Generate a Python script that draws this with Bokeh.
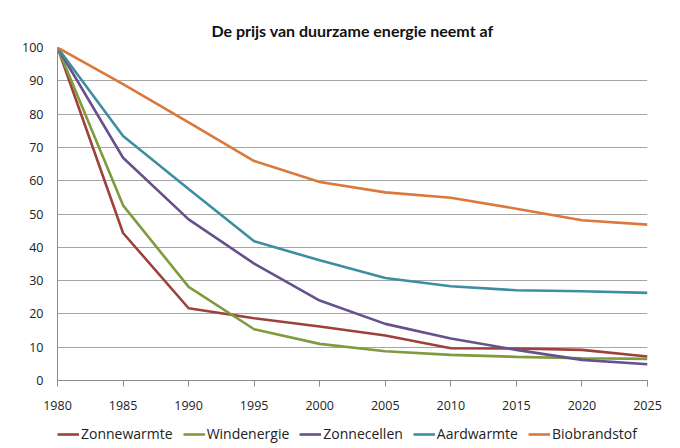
from bokeh.plotting import figure
from bokeh.layouts import column
from bokeh.models import Legend, LegendItem, Range1d, FixedTicker
from bokeh.embed import file_html
from bokeh.resources import INLINE

years = [1980, 1985, 1990, 1995, 2000, 2005, 2010, 2015, 2020, 2025]
zonnewarmte = [100, 44.3, 21.7, 18.7, 16.2, 13.5, 9.7, 9.6, 9.2, 7.2]
windenergie = [100, 52.6, 28.1, 15.4, 11.0, 8.8, 7.7, 7.1, 6.7, 6.5]
zonnecellen = [100, 66.9, 48.4, 35.1, 24.0, 17.0, 12.6, 9.2, 6.2, 4.9]
aardwarmte = [100, 73.4, 57.5, 41.8, 36.1, 30.8, 28.3, 27.1, 26.8, 26.3]
biobrandstof = [100, 89.0, 77.5, 65.9, 59.6, 56.5, 54.9, 51.6, 48.1, 46.8]

series_names = ["Zonnewarmte", "Windenergie", "Zonnecellen", "Aardwarmte", "Biobrandstof"]
series_values = [zonnewarmte, windenergie, zonnecellen, aardwarmte, biobrandstof]
colors = ["#9E403C", "#7F9B3D", "#66518D", "#3E8EA1", "#DA793B"]

y_ticks = [0, 10, 20, 30, 40, 50, 60, 70, 80, 90, 100]
x_ticks = years

p = figure(frame_width=590, frame_height=333, output_backend="svg", toolbar_location=None,
           x_range=Range1d(1980, 2025), y_range=Range1d(0, 100),
           min_border_left=57, min_border_right=33, min_border_top=47, min_border_bottom=0,
           title="De prijs van duurzame energie neemt af")

p.title.align = "center"
p.title.text_font = "Lato"
p.title.text_font_size = "16px"
p.title.text_font_style = "bold"
p.title.text_color = "#111111"
p.title.standoff = 15

p.outline_line_color = None
p.background_fill_color = "white"

p.xgrid.grid_line_color = None
p.ygrid.grid_line_color = "#A6A6A6"
p.ygrid.grid_line_width = 1

p.xaxis.ticker = FixedTicker(ticks=x_ticks)
p.yaxis.ticker = FixedTicker(ticks=y_ticks)
for ax in (p.xaxis, p.yaxis):
    ax.axis_line_color = "#8C8C8C"
    ax.major_tick_line_color = "#8C8C8C"
    ax.minor_tick_line_color = None
    ax.major_label_text_font = "Open Sans"
    ax.major_label_text_font_size = "12.5px"
    ax.major_label_text_color = "#222222"
p.xaxis.major_tick_out = 6
p.xaxis.major_tick_in = 0
p.xaxis.major_label_standoff = 14
p.yaxis.major_tick_out = 0
p.yaxis.major_tick_in = 0
p.yaxis.major_label_standoff = 14

for name, vals, c in zip(series_names, series_values, colors):
    p.line(years, vals, line_color=c, line_width=2.6)

# legend strip below the chart (its frame lines up with the chart frame)
q = figure(width=680, height=31, output_backend="svg", toolbar_location=None,
           x_range=Range1d(0, 1), y_range=Range1d(0, 1),
           min_border_left=0, min_border_right=0, min_border_top=0, min_border_bottom=0)
q.axis.visible = False
q.grid.visible = False
q.outline_line_color = None

items = []
for name, c in zip(series_names, colors):
    r = q.line([-10, -9], [-10, -10], line_color=c, line_width=2.6)
    items.append(LegendItem(label=name, renderers=[r]))

legend = Legend(items=items, orientation="horizontal", location=(0, 0),
                glyph_width=22, glyph_height=18, label_standoff=2, spacing=10,
                padding=0, margin=0, border_line_color=None,
                background_fill_alpha=0,
                label_text_font="Open Sans", label_text_font_size="14px",
                label_text_color="#222222")
q.add_layout(legend, "center")

layout = column(p, q, spacing=0)
open("out.html", "w").write(file_html(layout, INLINE))
